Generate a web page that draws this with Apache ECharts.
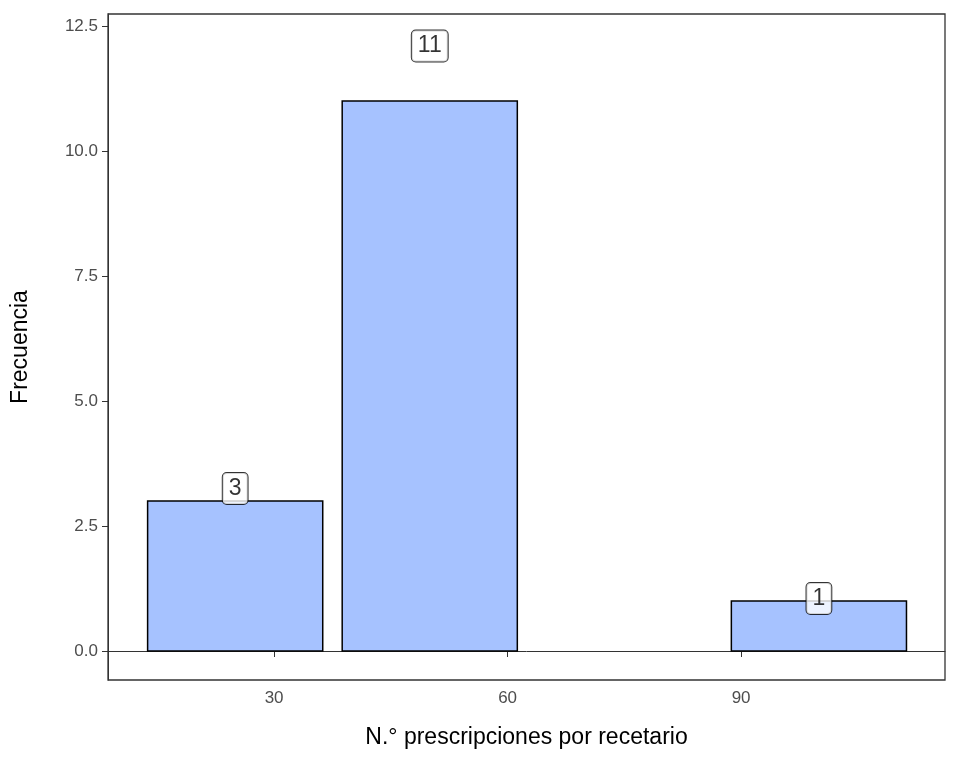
<!DOCTYPE html>
<html><head><meta charset="utf-8">
<script src="https://cdn.jsdelivr.net/npm/echarts@6/dist/echarts.min.js"></script>
<style>html,body{margin:0;background:#fff}#c{width:960px;height:768px}</style>
</head><body><div id="c"></div>
<script>
// bin centres, counts and label positions
const binCenters = [25, 50, 100];
const counts = [3, 11, 1];
const labelY = [3.25, 12.1, 1.05];
const binWidth = 22.5;
const xTicks = [30, 60, 90];
const yTicks = [0, 2.5, 5, 7.5, 10, 12.5];

const chart = echarts.init(document.getElementById('c'));
const font = 'Liberation Sans, Arial, sans-serif';

chart.setOption({
	animation: false,
	grid: { left: 108, right: 15, top: 14, bottom: 88, show: true, borderColor: '#333', borderWidth: 1.3 },
	xAxis: {
		type: 'value', min: 8.66, max: 116.2,
		name: 'N.° prescripciones por recetario', nameLocation: 'middle', nameGap: 46,
		nameTextStyle: { fontSize: 23, color: '#000', fontFamily: font },
		axisLine: { lineStyle: { color: '#333' } },
		axisTick: { show: true, customValues: xTicks, length: 6, lineStyle: { color: '#333' } },
		axisLabel: { customValues: xTicks, fontSize: 17, color: '#4d4d4d', fontFamily: font, margin: 10 },
		splitLine: { show: false }
	},
	yAxis: {
		type: 'value', min: -0.58, max: 12.74,
		name: 'Frecuencia', nameLocation: 'middle', nameGap: 76,
		nameTextStyle: { fontSize: 23, color: '#000', fontFamily: font },
		axisLine: { show: true, lineStyle: { color: '#333' } },
		axisTick: { show: true, customValues: yTicks, length: 6, lineStyle: { color: '#333' } },
		axisLabel: { customValues: yTicks, fontSize: 17, color: '#4d4d4d', fontFamily: font, margin: 10,
			formatter: v => v.toFixed(1) },
		splitLine: { show: false }
	},
	series: [{
		type: 'custom',
		data: binCenters.map((x, i) => [x, counts[i]]),
		renderItem: (params, api) => {
			const x = api.value(0), y = api.value(1);
			const p0 = api.coord([x - binWidth / 2, y]);
			const p1 = api.coord([x + binWidth / 2, 0]);
			return { type: 'rect', shape: { x: p0[0], y: p0[1], width: p1[0] - p0[0], height: p1[1] - p0[1] },
				style: { fill: '#a6c2ff', stroke: '#000', lineWidth: 1.5 } };
		}
	}, {
		type: 'scatter',
		symbolSize: 0,
		data: binCenters.map((x, i) => [x, labelY[i], counts[i]]),
		label: {
			show: true, position: 'inside', formatter: p => p.value[2],
			fontSize: 23, color: '#000', fontFamily: font,
			backgroundColor: '#fff', borderColor: '#000', borderWidth: 1, borderRadius: 4,
			padding: [5, 6, 3, 6]
		}
	}]
});
</script></body></html>
